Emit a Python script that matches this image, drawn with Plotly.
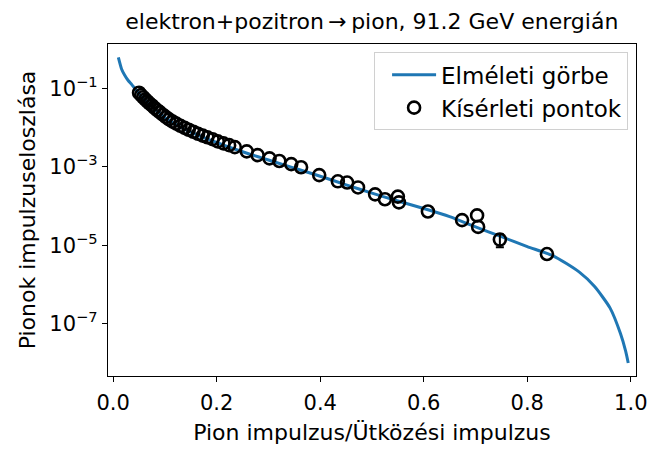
import plotly.graph_objects as go

# Theory curve
theory_x = [0.010, 0.016, 0.022, 0.029, 0.036, 0.042, 0.05, 0.06, 0.07, 0.08, 0.09, 0.10,
            0.12, 0.14, 0.16, 0.18, 0.20, 0.22, 0.24, 0.26, 0.28, 0.30, 0.33, 0.36, 0.40,
            0.45, 0.50, 0.55, 0.60, 0.65, 0.70, 0.75, 0.80, 0.85, 0.90, 0.93, 0.96, 0.98,
            0.99, 0.995]
theory_y = [0.62, 0.32, 0.22, 0.16, 0.126, 0.10, 0.074, 0.054, 0.040, 0.030, 0.0234, 0.0182,
            0.0123, 0.0090, 0.0068, 0.0053, 0.0042, 0.00335, 0.00270, 0.00220, 0.00182, 0.00150,
            0.00113, 0.00085, 0.00058, 0.00035, 0.000214, 0.000135, 8.7e-5, 5.4e-5, 2.95e-5,
            1.66e-5, 9.3e-6, 5.4e-6, 2.1e-6, 8.9e-7, 2.5e-7, 5.6e-8, 2.0e-8, 1.0e-8]

data_x = [0.050, 0.054, 0.058, 0.062, 0.066, 0.070, 0.075, 0.080, 0.085, 0.090, 0.096, 0.102,
          0.108, 0.115, 0.122, 0.130, 0.138, 0.146, 0.155, 0.164, 0.173, 0.182, 0.192, 0.202,
          0.213, 0.224, 0.235, 0.258, 0.279, 0.302, 0.321, 0.344, 0.363, 0.398, 0.434, 0.452,
          0.473, 0.506, 0.525, 0.550, 0.552, 0.608, 0.674, 0.703, 0.705, 0.747, 0.838]
data_y = [0.078, 0.068, 0.060, 0.053, 0.047, 0.042, 0.037, 0.032, 0.028, 0.025, 0.0215, 0.0186,
          0.0163, 0.0143, 0.0127, 0.0112, 0.0099, 0.0089, 0.0079, 0.0070, 0.0063, 0.0057, 0.0051,
          0.0045, 0.0040, 0.0036, 0.0032, 0.0025, 0.0020, 0.00165, 0.00142, 0.00118, 0.00098,
          0.00062, 0.00043, 0.00040, 0.00030, 0.00020, 0.000150, 0.000175, 0.000125, 7.3e-5,
          4.4e-5, 5.8e-5, 2.95e-5, 1.4e-5, 6.0e-6]
# visible error bars (others are hidden inside the markers)
data_err = [0] * 45 + [5.1e-6, 0]

tick_vals = [1e-1, 1e-3, 1e-5, 1e-7]
tick_text = ["10<sup>\u22121</sup>", "10<sup>\u22123</sup>", "10<sup>\u22125</sup>", "10<sup>\u22127</sup>"]
x_ticks = [0.0, 0.2, 0.4, 0.6, 0.8, 1.0]

FONT = "DejaVu Sans"

err_idx = [i for i, e in enumerate(data_err) if e > 0]

fig = go.Figure()
fig.add_trace(go.Scatter(
    x=theory_x, y=theory_y, mode="lines", name="Elméleti görbe",
    line=dict(color="#1f77b4", width=3, shape="spline", smoothing=0.6),
))
fig.add_trace(go.Scatter(
    x=[data_x[i] for i in err_idx], y=[data_y[i] for i in err_idx], mode="markers",
    showlegend=False, hoverinfo="skip",
    marker=dict(size=12, color="rgba(0,0,0,0)"),
    error_y=dict(type="data", array=[data_err[i] for i in err_idx], visible=True,
                 color="black", thickness=2, width=4),
))
fig.add_trace(go.Scatter(
    x=data_x, y=data_y, mode="markers", name="Kísérleti pontok",
    marker=dict(symbol="circle-open", size=12, color="black", line=dict(width=2.6, color="black")),
))

fig.update_layout(
    width=664, height=453,
    margin=dict(l=108, r=28, t=44, b=66),
    paper_bgcolor="white", plot_bgcolor="white",
    font=dict(family=FONT, size=21, color="black"),
    title=dict(text="elektron+pozitron\u2009\u2192\u2009pion, 91.2 GeV energián",
               x=0.56, xanchor="center", y=0.953, yanchor="middle", yref="container",
               font=dict(family=FONT, size=22, color="black")),
    showlegend=True,
    legend=dict(x=0.985, y=0.975, xanchor="right", yanchor="top",
                bgcolor="rgba(255,255,255,0.8)", bordercolor="#d0d0d0", borderwidth=1,
                indentation=12, itemwidth=44,
                font=dict(family=FONT, size=23, color="black"), tracegroupgap=2),
)
fig.update_xaxes(
    range=[-0.01, 1.01], tickvals=x_ticks, ticktext=[f"{v:.1f}" for v in x_ticks],
    showline=True, linecolor="black", linewidth=1.2, mirror=True,
    ticks="outside", ticklen=5, tickwidth=1.2, tickcolor="black",
    showgrid=False, zeroline=False, ticklabelstandoff=3,
    tickfont=dict(family=FONT, size=21),
    title=dict(text="Pion impulzus/Ütközési impulzus", font=dict(family=FONT, size=22), standoff=10),
)
fig.update_yaxes(
    type="log", range=[-8.333, 0.136], tickvals=tick_vals, ticktext=tick_text,
    showline=True, linecolor="black", linewidth=1.2, mirror=True,
    ticks="outside", ticklen=5, tickwidth=1.2, tickcolor="black",
    showgrid=False, zeroline=False,
    tickfont=dict(family=FONT, size=21),
    title=dict(text="Pionok impulzuseloszlása", font=dict(family=FONT, size=22), standoff=7),
)

fig.write_html("out.html", config={"displayModeBar": False},
               post_script="document.body.style.margin='0';")
